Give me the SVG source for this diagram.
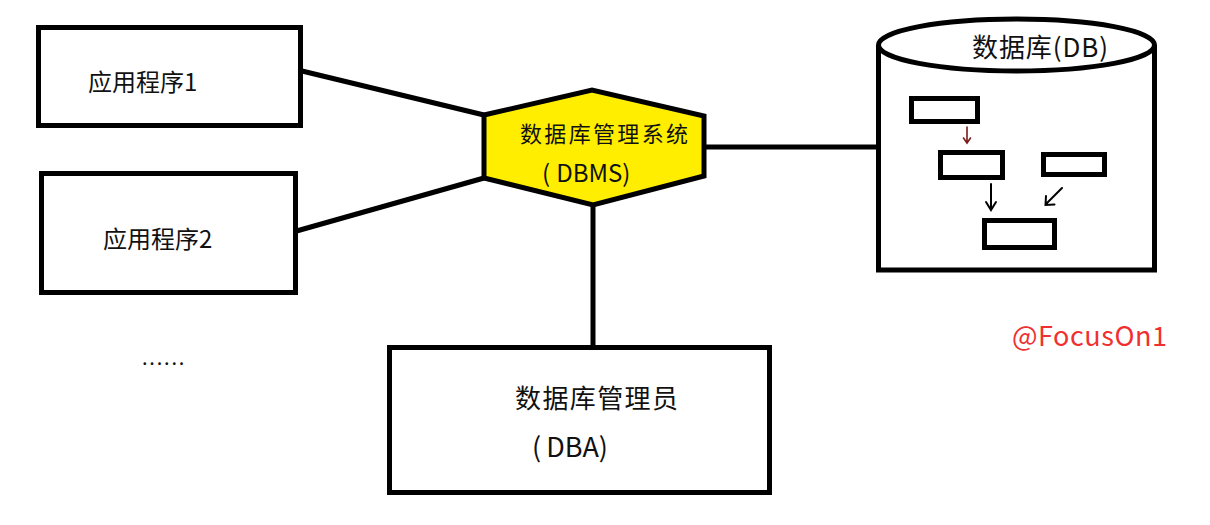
<svg xmlns="http://www.w3.org/2000/svg" width="1210" height="525" viewBox="0 0 1210 525">
<style>
.box{fill:#fff;stroke:#000;stroke-width:5}
.line{stroke:#000;stroke-width:5;fill:none}
.t{font-family:"Noto Sans CJK SC","Microsoft YaHei",sans-serif;fill:#111}
.small{fill:none;stroke:#000;stroke-width:5}
</style>
<rect width="1210" height="525" fill="#fff"/>
<g id="connectors">
<line class="line" x1="302" y1="71" x2="484" y2="115"/>
<line class="line" x1="293" y1="232" x2="484" y2="178"/>
<line class="line" x1="704" y1="147" x2="879" y2="147"/>
<line class="line" x1="593" y1="204" x2="593" y2="346"/>
</g>
<g id="app1">
<rect class="box" x="38.5" y="27.5" width="262" height="98"/>
<text class="t" x="88" y="91" font-size="24">应用程序1</text>
</g>
<g id="app2">
<rect class="box" x="41.5" y="173.5" width="254" height="119"/>
<text class="t" x="103" y="248" font-size="24">应用程序2</text>
</g>
<g id="more">
<text class="t" x="142" y="365" font-size="20" letter-spacing="1.8">......</text>
</g>
<g id="dbms">
<polygon points="484,115 592,90 704,116 704,176 593,205 484,178" fill="#ffee00" stroke="#000" stroke-width="5" stroke-linejoin="miter"/>
<text class="t" x="520" y="142" font-size="22" textLength="168">数据库管理系统</text>
<text class="t" x="542" y="182" font-size="24">(<tspan dx="6">DBMS)</tspan></text>
</g>
<g id="db">
<path d="M878.5,45 V270 H1154.5 V45" fill="#fff" stroke="#000" stroke-width="5"/>
<ellipse cx="1016.5" cy="45" rx="138" ry="26" fill="#fff" stroke="#000" stroke-width="5"/>
<text class="t" x="972" y="57" font-size="26" textLength="136">数据库(DB)</text>
<rect class="small" x="911.5" y="98.5" width="66" height="23"/>
<rect class="small" x="940.5" y="152.5" width="62" height="25"/>
<rect class="small" x="1043.5" y="154.5" width="61" height="20"/>
<rect class="small" x="984.5" y="220.5" width="70" height="27"/>
<g fill="none" stroke-linecap="round">
<path d="M967,127 V142 M963.5,138 L967,143 L970.5,138" stroke="#7a1c1c" stroke-width="1.6"/>
<path d="M991,184 V209 M986,202 L991,210 L996,202" stroke="#000" stroke-width="2"/>
<path d="M1062,188 L1046,204 M1046,196 L1045.5,205 L1054.5,204.5" stroke="#000" stroke-width="2"/>
</g>
</g>
<g id="dba">
<rect class="box" x="389.5" y="347.5" width="380" height="145"/>
<text class="t" x="515" y="408" font-size="26" textLength="163">数据库管理员</text>
<text class="t" x="532" y="457" font-size="27">(<tspan dx="5">DBA)</tspan></text>
</g>
<g id="watermark">
<text x="1012" y="346" font-family="Noto Sans CJK SC, sans-serif" font-size="27" fill="#f03030" textLength="155">@FocusOn1</text>
</g>
</svg>
